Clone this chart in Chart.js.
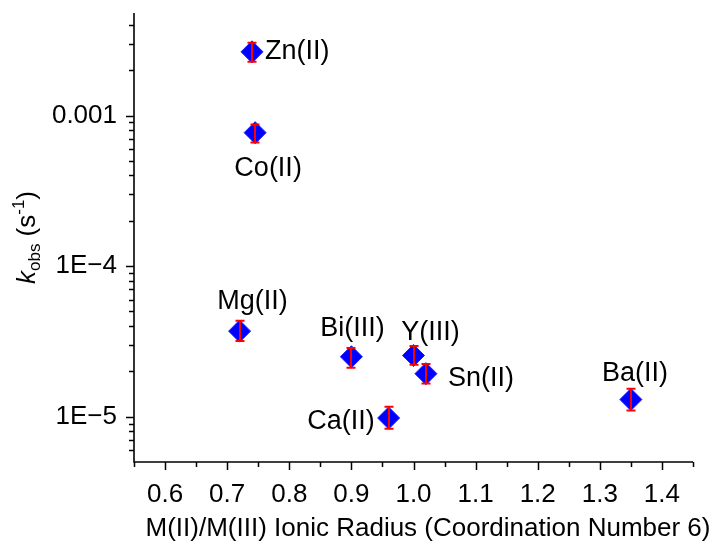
<!DOCTYPE html>
<html>
<head>
<meta charset="utf-8">
<script src="https://cdn.jsdelivr.net/npm/chart.js@4/dist/chart.umd.min.js"></script>
<style>
  html, body { margin: 0; padding: 0; background: #ffffff; }
  #wrap { width: 716px; height: 548px; }
</style>
</head>
<body>
<div id="wrap"><canvas id="c" width="716" height="548"></canvas></div>
<script>
// ---- data ----
const metals = ['Zn(II)', 'Co(II)', 'Mg(II)', 'Bi(III)', 'Y(III)', 'Sn(II)', 'Ca(II)', 'Ba(II)'];
const ionicRadius = [0.74, 0.745, 0.72, 0.90, 1.00, 1.02, 0.96, 1.35];
const kobs = [2.65e-3, 7.7e-4, 3.7e-5, 2.5e-5, 2.55e-5, 1.93e-5, 9.8e-6, 1.3e-5];
const kobsUpper = [3.04e-3, 8.72e-4, 4.33e-5, 2.86e-5, 2.95e-5, 2.24e-5, 1.165e-5, 1.53e-5];
const kobsLower = [2.28e-3, 6.62e-4, 3.18e-5, 2.11e-5, 2.21e-5, 1.66e-5, 8.33e-6, 1.10e-5];

const xMajorTicks = [0.6, 0.7, 0.8, 0.9, 1.0, 1.1, 1.2, 1.3, 1.4];
const xTickLabels = ['0.6', '0.7', '0.8', '0.9', '1.0', '1.1', '1.2', '1.3', '1.4'];
const yMajorTicks = [1e-5, 1e-4, 1e-3];
const yTickLabels = ['1E\u22125', '1E\u22124', '0.001'];

const xTitle = 'M(II)/M(III) Ionic Radius (Coordination Number 6)';

// ---- styling / layout (not data) ----
const FONT = '"Liberation Sans", Arial, Helvetica, sans-serif';
// label placement relative to the marker: [dx, dy, align]
const labelPlacement = [
  [13, 0, 'left'],
  [13, 36, 'center'],
  [13, -30, 'center'],
  [1, -28, 'center'],
  [17, -23, 'center'],
  [22, 5, 'left'],
  [-14, 4, 'right'],
  [4, -26, 'center']
];

const xMinorTicks = [];
for (let i = 0; i <= 18; i++) {
  const v = Math.round((0.55 + i * 0.05) * 1000) / 1000;
  if (!xMajorTicks.some(m => Math.abs(m - v) < 1e-9)) xMinorTicks.push(v);
}
const yMinorTicks = [];
[1e-6, 1e-5, 1e-4, 1e-3].forEach(d => {
  for (let m = 2; m <= 9; m++) {
    const v = m * d;
    if (v >= 5e-6 && v <= 4.8e-3) yMinorTicks.push(v);
  }
});

const decorPlugin = {
  id: 'decor',
  afterDatasetsDraw(chart) {
    const ctx = chart.ctx;
    const xs = chart.scales.x, ys = chart.scales.y;
    const a = chart.chartArea;
    ctx.save();
    // error bars
    ctx.strokeStyle = '#ff0000';
    ctx.lineWidth = 2;
    for (let i = 0; i < kobs.length; i++) {
      const px = Math.round(xs.getPixelForValue(ionicRadius[i]));
      const pt = ys.getPixelForValue(kobsUpper[i]);
      const pb = ys.getPixelForValue(kobsLower[i]);
      ctx.beginPath();
      ctx.moveTo(px, pt); ctx.lineTo(px, pb);
      ctx.moveTo(px - 4.5, pt); ctx.lineTo(px + 4.5, pt);
      ctx.moveTo(px - 4.5, pb); ctx.lineTo(px + 4.5, pb);
      ctx.stroke();
    }
    // point labels
    ctx.fillStyle = '#000';
    ctx.font = '27px ' + FONT;
    ctx.textBaseline = 'middle';
    for (let i = 0; i < metals.length; i++) {
      const px = xs.getPixelForValue(ionicRadius[i]);
      const py = ys.getPixelForValue(kobs[i]);
      const p = labelPlacement[i];
      ctx.textAlign = p[2];
      ctx.fillText(metals[i], px + p[0], py + p[1]);
    }
    // axes lines
    ctx.strokeStyle = '#000';
    ctx.lineWidth = 1.6;
    ctx.beginPath();
    ctx.moveTo(a.left, a.top); ctx.lineTo(a.left, a.bottom);
    ctx.lineTo(a.right, a.bottom);
    ctx.stroke();
    // ticks
    ctx.lineWidth = 1.5;
    ctx.beginPath();
    xMajorTicks.forEach(v => { const p = Math.round(xs.getPixelForValue(v)) + 0.5; ctx.moveTo(p, a.bottom); ctx.lineTo(p, a.bottom + 8); });
    xMinorTicks.forEach(v => { const p = Math.round(xs.getPixelForValue(v)) + 0.5; ctx.moveTo(p, a.bottom); ctx.lineTo(p, a.bottom + 5); });
    yMajorTicks.forEach(v => { const p = Math.round(ys.getPixelForValue(v)) + 0.5; ctx.moveTo(a.left, p); ctx.lineTo(a.left - 8, p); });
    yMinorTicks.forEach(v => { const p = Math.round(ys.getPixelForValue(v)) + 0.5; ctx.moveTo(a.left, p); ctx.lineTo(a.left - 5, p); });
    ctx.stroke();
    // x title
    ctx.fillStyle = '#000';
    ctx.font = '26px ' + FONT;
    ctx.textAlign = 'center';
    ctx.textBaseline = 'middle';
    ctx.fillText(xTitle, 428, 529);
    // y title: k_obs (s^-1), rotated
    ctx.translate(26, (a.top + a.bottom) / 2);
    ctx.rotate(-Math.PI / 2);
    ctx.textAlign = 'left';
    ctx.textBaseline = 'alphabetic';
    const parts = [
      { t: 'k', f: 'italic 26px ' + FONT, dy: 0 },
      { t: 'obs', f: '17px ' + FONT, dy: 5 },
      { t: ' (s', f: '26px ' + FONT, dy: 0 },
      { t: '-1', f: '17px ' + FONT, dy: -11 },
      { t: ')', f: '26px ' + FONT, dy: 0 }
    ];
    let total = 0;
    parts.forEach(p => { ctx.font = p.f; p.w = ctx.measureText(p.t).width; total += p.w; });
    let cx = -total / 2;
    const base = 9;
    parts.forEach(p => { ctx.font = p.f; ctx.fillText(p.t, cx, base + p.dy); cx += p.w; });
    ctx.restore();
  }
};

new Chart(document.getElementById('c'), {
  type: 'scatter',
  data: {
    datasets: [{
      data: ionicRadius.map((x, i) => ({ x: x, y: kobs[i] })),
      pointStyle: 'rectRot',
      pointRadius: 11,
      pointHoverRadius: 11,
      backgroundColor: '#0000ff',
      borderColor: '#1a1aff',
      borderWidth: 1
    }]
  },
  options: {
    responsive: false,
    animation: false,
    devicePixelRatio: 1,
    layout: { padding: { left: 0, top: 13, right: 23, bottom: 0 } },
    plugins: { legend: { display: false }, tooltip: { enabled: false } },
    scales: {
      x: {
        type: 'linear',
        min: 0.55,
        max: 1.45,
        afterBuildTicks: s => { s.ticks = xMajorTicks.map(v => ({ value: v })); },
        afterFit: s => { s.height = 86; s.paddingLeft = 0; s.paddingRight = 0; s.paddingTop = 0; s.paddingBottom = 0; },
        grid: { display: false, drawTicks: false },
        border: { display: false },
        ticks: {
          autoSkip: false,
          maxRotation: 0,
          padding: 17,
          color: '#000',
          font: { family: FONT, size: 26 },
          callback: (v, i) => xTickLabels[i]
        }
      },
      y: {
        type: 'logarithmic',
        min: 5e-6,
        max: 4.8e-3,
        afterBuildTicks: s => { s.ticks = yMajorTicks.map(v => ({ value: v })); },
        afterFit: s => { s.width = 134; s.paddingLeft = 0; s.paddingRight = 0; s.paddingTop = 0; s.paddingBottom = 0; },
        grid: { display: false, drawTicks: false },
        border: { display: false },
        ticks: {
          autoSkip: false,
          padding: 17,
          color: '#000',
          font: { family: FONT, size: 26 },
          callback: (v, i) => yTickLabels[i]
        }
      }
    }
  },
  plugins: [decorPlugin]
});
</script>
</body>
</html>
